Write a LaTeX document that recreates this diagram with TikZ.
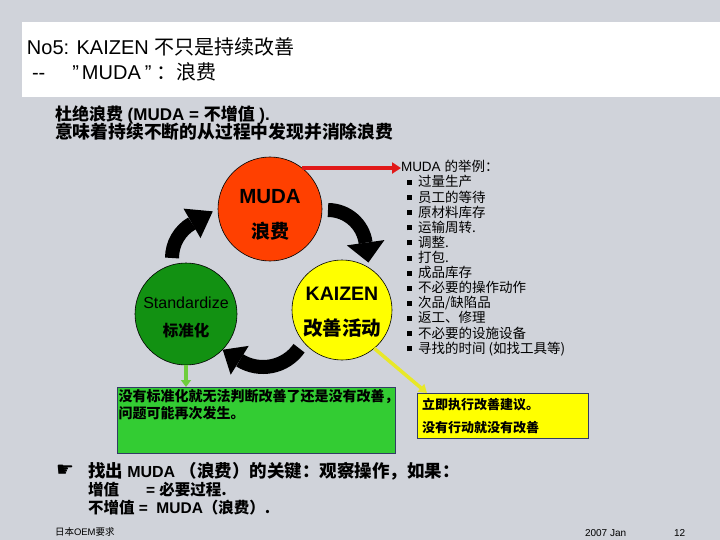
\documentclass[tikz,border=0pt]{standalone}
\usepackage{fontspec}
\setmainfont{Liberation Sans}
\newfontfamily\cjk{Noto Sans CJK SC}
\newfontfamily\symf{DejaVu Sans}
\usetikzlibrary{arrows.meta,calc}
\newcommand\zh[1]{{\cjk #1}}
\definecolor{bg}{RGB}{208,211,218}
\definecolor{mudared}{RGB}{255,64,0}
\definecolor{stdgreen}{RGB}{18,145,18}
\definecolor{kzyellow}{RGB}{255,255,0}
\definecolor{boxgreen}{RGB}{51,204,51}
\definecolor{boxline}{RGB}{50,60,100}
\definecolor{arrred}{RGB}{225,25,25}
\definecolor{arrgreen}{RGB}{110,205,60}
\definecolor{arryellow}{RGB}{232,232,40}
\tikzset{
  ttl/.style={font=\fontsize{20}{22}\selectfont, anchor=base west},
  subt/.style={font=\bfseries\fontsize{17}{19}\selectfont, anchor=base west},
  circ/.style={circle, draw=black, line width=0.6pt},
  ctxt/.style={anchor=base},
  lst/.style={font=\fontsize{13.5}{15}\selectfont, anchor=base west},
  boxt/.style={font=\bfseries\fontsize{14}{15}\selectfont, anchor=base west},
  bot/.style={font=\bfseries\fontsize{15.5}{18}\selectfont, anchor=base west},
  foot/.style={font=\fontsize{9.5}{11}\selectfont, anchor=base west},
  cyc/.style={line width=14pt, black},
  linkarr/.style={line width=3.5pt, -{Triangle[length=9pt,width=11pt]}}
}
\begin{document}
\begin{tikzpicture}[x=1pt,y=-1pt, every node/.style={inner sep=0pt, outer sep=0pt}]
\fill[bg] (0,0) rectangle (720,540);
\useasboundingbox (0,0) rectangle (720,540);
\fill[white] (22,22) rectangle (720,97);

% title
\node[ttl] (t1) at (27,55) {No5: KAIZEN \zh{不只是持续改善}};
\node[ttl] (t2) at (32,80) {-{}-\hspace{27pt}\symbol{34}\hspace{3pt}MUDA\hspace{4pt}\symbol{34}\hspace{5pt}\zh{：浪费}};

% subtitle
\node[subt] (s1) at (55,121) {\zh{杜绝浪费} (MUDA = \zh{不增值} ).};
\node[subt, font=\bfseries\fontsize{17.8}{19}\selectfont] (s2) at (55,139) {\zh{意味着持续不断的从过程中发现并消除浪费}};

% circles
\node[circ, fill=mudared, minimum size=104pt] (muda) at (270,209) {};
\node[circ, fill=stdgreen, minimum size=102pt] (std) at (186,314) {};
\node[circ, fill=kzyellow, minimum size=100pt] (kz) at (342,310) {};

\node[ctxt, font=\bfseries\fontsize{20.5}{22}\selectfont] (mudaA) at ($(muda)+(0,-5)$) {MUDA};
\node[ctxt, font=\bfseries\fontsize{19}{21}\selectfont] (mudaB) at ($(muda)+(0,30)$) {\zh{浪费}};
\node[ctxt, font=\fontsize{16}{18}\selectfont] (stdA) at ($(std)+(0,-6)$) {Standardize};
\node[ctxt, font=\bfseries\fontsize{15.5}{17}\selectfont] (stdB) at ($(std)+(0,22)$) {\zh{标准化}};
\node[ctxt, font=\bfseries\fontsize{19.5}{21}\selectfont] (kzA) at ($(kz)+(0,-10)$) {KAIZEN};
\node[ctxt, font=\bfseries\fontsize{19.5}{21}\selectfont] (kzB) at ($(kz)+(0,25)$) {\zh{改善活动}};

% cycle arrows
\coordinate (c1) at (212,258);
\draw[cyc] ($(c1)+(180:40)$) arc[start angle=180, end angle=240, radius=40];
\fill ($(c1)+(240:23)$) -- ($(c1)+(240:57)$) -- ($(c1)+(240:40)+(-30:24)$) -- cycle;

\coordinate (c2) at (328,248);
\draw[cyc] ($(c2)+(-90:38)$) arc[start angle=-90, end angle=-8, radius=38];
\fill ($(c2)+(-8:19)$) -- ($(c2)+(-8:57)$) -- ($(c2)+(-8:38)+(82:20)$) -- cycle;

\coordinate (c3) at (263,323);
\draw[cyc] ($(c3)+(35:44)$) arc[start angle=35, end angle=122, radius=44];
\fill ($(c3)+(122:27)$) -- ($(c3)+(122:61)$) -- ($(c3)+(122:44)+(212:20)$) -- cycle;

% MUDA examples
\node[lst] (ex) at (401,172) {MUDA \zh{的举例：}};
\foreach \t [count=\i] in {过量生产, 员工的等待, 原材料库存, 运输周转., 调整., 打包., 成品库存, 不必要的操作动作, 次品/缺陷品, 返工、修理, 不必要的设施设备, 寻找的时间 (如找工具等)} {
  \node[lst] (it\i) at (407,{187+15.1*(\i-1)}) {\raisebox{2pt}{\rule{5pt}{5pt}}\hspace{6pt}\zh{\t}};
}

% red arrow
\draw[linkarr, arrred] (muda.52) -- (muda.52 -| ex.west);

% green box
\node[draw=boxline, line width=0.8pt, fill=boxgreen, minimum width=278pt, minimum height=66pt, anchor=north west] (gbox) at (117,387) {};
\node[boxt] (g1) at ($(gbox.north west)+(1.5,14)$) {\zh{没有标准化就无法判断改善了还是没有改善，}};
\node[boxt] (g2) at ($(gbox.north west)+(1.5,31)$) {\zh{问题可能再次发生。}};
\draw[linkarr, arrgreen, -{Triangle[length=7pt,width=10pt]}] (std.south) -- (std.south |- gbox.north);

% yellow box
\node[draw=boxline, line width=0.8pt, fill=kzyellow, minimum width=171pt, minimum height=45pt, anchor=north west] (ybox) at (417,393) {};
\node[boxt, font=\bfseries\fontsize{13}{15}\selectfont] (y1) at ($(ybox.north west)+(5,16)$) {\zh{立即执行改善建议。}};
\node[boxt, font=\bfseries\fontsize{13}{15}\selectfont] (y2) at ($(ybox.north west)+(5,39)$) {\zh{没有行动就没有改善}};
\coordinate (ytip) at ($(ybox.north west)+(10,0)$);
\draw[linkarr, arryellow, -{Triangle[length=8pt,width=10pt]}] (kz.-50) -- (ytip);

% bottom text
\node[anchor=base west, font=\symf\fontsize{20}{20}\selectfont] (hand) at (56,476) {☛};
\node[bot] (b1) at (88,477) {{\cjk\fontsize{17.5}{18}\selectfont 找出} \fontsize{16}{18}\selectfont MUDA {\cjk\fontsize{17.5}{18}\selectfont （浪费）的关键：观察操作，如果：}};
\node[bot] (b2) at (88,495) {\zh{增值}\hspace{27pt}= \zh{必要过程.}};
\node[bot] (b3) at (88,513) {\zh{不增值} = \ MUDA\zh{（浪费）.}};

% footer
\node[foot] (f1) at (55,535) {\zh{日本}OEM\zh{要求}};
\node[foot, font=\fontsize{10}{11}\selectfont] (f2) at (585,536) {2007 Jan};
\node[foot, font=\fontsize{10}{11}\selectfont] (f3) at (674,536) {12};
\end{tikzpicture}
\end{document}
